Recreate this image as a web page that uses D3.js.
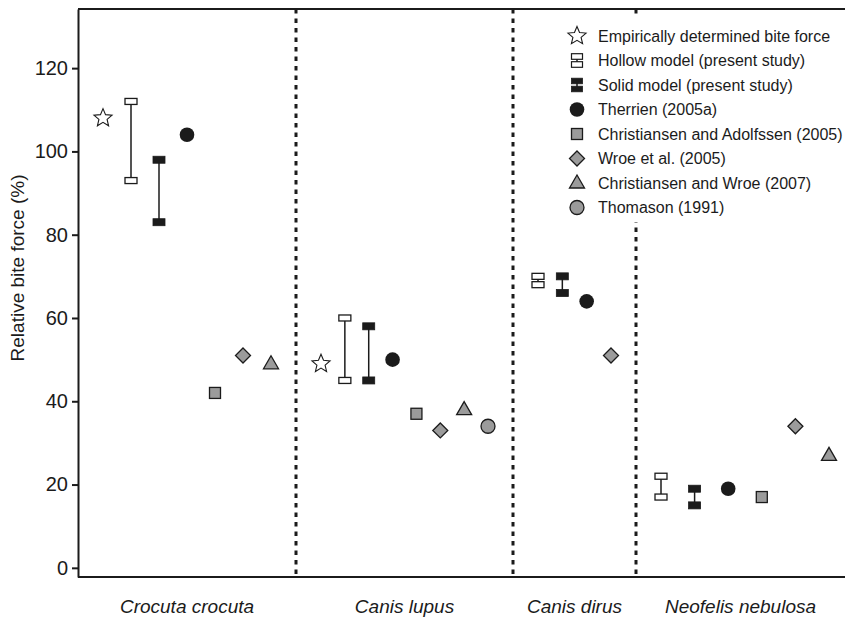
<!DOCTYPE html>
<html>
<head>
<meta charset="utf-8">
<script src="https://cdn.jsdelivr.net/npm/d3@7"></script>
<style>
  html, body { margin: 0; padding: 0; background: #fff; }
  svg { display: block; font-family: "Liberation Sans", Arial, sans-serif; }
</style>
</head>
<body>
<svg id="chart" width="845" height="624"></svg>
<script>
// Species on the x axis
const categories = ["Crocuta crocuta", "Canis lupus", "Canis dirus", "Neofelis nebulosa"];

// Relative bite force (%) per species; null = no estimate for that species
const empirical             = [108, 49, null, null];
const hollowLow             = [93, 45, 68, 17];
const hollowHigh            = [112, 60, 70, 22];
const solidLow              = [83, 45, 66, 15];
const solidHigh             = [98, 58, 70, 19];
const therrien              = [104, 50, 64, 19];
const christiansenAdolfssen = [42, 37, null, 17];
const wroe                  = [51, 33, 51, 34];
const christiansenWroe      = [49, 38, null, 27];
const thomason              = [null, 34, null, null];

const yTicks = [0, 20, 40, 60, 80, 100, 120];

const legendLabels = [
  "Empirically determined bite force",
  "Hollow model (present study)",
  "Solid model (present study)",
  "Therrien (2005a)",
  "Christiansen and Adolfssen (2005)",
  "Wroe et al. (2005)",
  "Christiansen and Wroe (2007)",
  "Thomason (1991)"
];

// Series in drawing order within each species group
const series = [
  { key: "empirical", kind: "star",   lo: empirical,   hi: empirical },
  { key: "hollow",    kind: "hollow", lo: hollowLow,   hi: hollowHigh },
  { key: "solid",     kind: "solid",  lo: solidLow,    hi: solidHigh },
  { key: "therrien",  kind: "dot",    lo: therrien,    hi: therrien },
  { key: "ca",        kind: "square", lo: christiansenAdolfssen, hi: christiansenAdolfssen },
  { key: "wroe",      kind: "diamond",lo: wroe,        hi: wroe },
  { key: "cw",        kind: "triangle", lo: christiansenWroe, hi: christiansenWroe },
  { key: "thomason",  kind: "grayDot", lo: thomason,   hi: thomason }
];

const W = 845, H = 624;
const svg = d3.select("#chart");
const ink = "#1b1b1b";
const gray = "#9b9b9b";

const y = d3.scaleLinear().domain([-2.2, 134.2]).range([577, 9]);
// group boundaries along x (group i spans gx(i)..gx(i+1))
const gx = d3.scaleLinear().domain([0, 1, 2, 3, 4]).range([78, 296, 513, 636, 854]);
const innerPad = 25;

// Build point list
const points = [];
categories.forEach((cat, ci) => {
  const present = series.filter(s => s.lo[ci] != null);
  const xp = d3.scalePoint()
    .domain(present.map(s => s.key))
    .range([gx(ci) + innerPad, gx(ci + 1) - innerPad]);
  present.forEach(s => {
    points.push({ cat, kind: s.kind, x: xp(s.key), lo: s.lo[ci], hi: s.hi[ci] });
  });
});

// Symbol helpers
function starPath(cx, cy, R, r) {
  const pts = [];
  for (let i = 0; i < 10; i++) {
    const a = -Math.PI / 2 + i * Math.PI / 5;
    const rad = i % 2 === 0 ? R : r;
    pts.push([cx + rad * Math.cos(a), cy + rad * Math.sin(a)]);
  }
  return "M" + pts.map(p => p.join(",")).join("L") + "Z";
}

function drawMarker(g, kind, x, yLo, yHi) {
  if (kind === "star") {
    g.append("path").attr("d", starPath(x, yLo, 9.5, 4.3))
      .attr("fill", "#fff").attr("stroke", ink).attr("stroke-width", 1.1);
  } else if (kind === "hollow" || kind === "solid") {
    const filled = kind === "solid";
    const cw = 12, ch = filled ? 7 : 6;
    g.append("line").attr("x1", x).attr("x2", x).attr("y1", yHi).attr("y2", yLo)
      .attr("stroke", ink).attr("stroke-width", 1.5);
    [yHi, yLo].forEach(yy => {
      g.append("rect").attr("x", x - cw / 2).attr("y", yy - ch / 2)
        .attr("width", cw).attr("height", ch)
        .attr("fill", filled ? ink : "#fff")
        .attr("stroke", ink).attr("stroke-width", filled ? 0.8 : 1.3);
    });
  } else if (kind === "dot") {
    g.append("circle").attr("cx", x).attr("cy", yLo).attr("r", 7.3).attr("fill", ink);
  } else if (kind === "grayDot") {
    g.append("circle").attr("cx", x).attr("cy", yLo).attr("r", 7)
      .attr("fill", gray).attr("stroke", ink).attr("stroke-width", 1.3);
  } else if (kind === "square") {
    const s = 11;
    g.append("rect").attr("x", x - s / 2).attr("y", yLo - s / 2).attr("width", s).attr("height", s)
      .attr("fill", gray).attr("stroke", ink).attr("stroke-width", 1.3);
  } else if (kind === "diamond") {
    const d = 7.5;
    g.append("path").attr("d", `M${x},${yLo - d}L${x + d},${yLo}L${x},${yLo + d}L${x - d},${yLo}Z`)
      .attr("fill", gray).attr("stroke", ink).attr("stroke-width", 1.3);
  } else if (kind === "triangle") {
    const hw = 7.5, top = yLo - 8, bot = yLo + 5;
    g.append("path").attr("d", `M${x},${top}L${x + hw},${bot}L${x - hw},${bot}Z`)
      .attr("fill", gray).attr("stroke", ink).attr("stroke-width", 1.3);
  }
}

// Dashed separators between species
const seps = svg.append("g");
[1, 2, 3].forEach(i => {
  seps.append("line")
    .attr("x1", gx(i)).attr("x2", gx(i))
    .attr("y1", y.range()[1]).attr("y2", y.range()[0])
    .attr("stroke", ink).attr("stroke-width", 3)
    .attr("stroke-dasharray", "4.5,5");
});

// Frame: top, left, bottom
const frame = svg.append("g").attr("stroke", ink).attr("stroke-width", 2).attr("fill", "none");
frame.append("line").attr("x1", 78).attr("x2", W).attr("y1", y.range()[1]).attr("y2", y.range()[1]);
frame.append("line").attr("x1", 78).attr("x2", W).attr("y1", y.range()[0]).attr("y2", y.range()[0]);

// Y axis
const yAxis = svg.append("g").attr("transform", "translate(78,0)")
  .call(d3.axisLeft(y).tickValues(yTicks).tickSize(6).tickPadding(4).tickSizeOuter(0));
yAxis.select(".domain").attr("stroke", ink).attr("stroke-width", 2);
yAxis.selectAll(".tick line").attr("stroke", ink).attr("stroke-width", 2);
yAxis.selectAll(".tick text").attr("font-size", 20).attr("fill", ink)
  .attr("font-family", "Liberation Sans, Arial, sans-serif");

svg.append("text")
  .attr("transform", `translate(24,${(y(0) + y(120)) / 2 - 50}) rotate(-90)`)
  .attr("text-anchor", "middle")
  .attr("font-size", 19).attr("fill", ink)
  .text("Relative bite force (%)");

// Category labels
categories.forEach((cat, ci) => {
  const cx = (gx(ci) + Math.min(gx(ci + 1), W)) / 2;
  svg.append("text").attr("x", cx).attr("y", 613)
    .attr("text-anchor", "middle").attr("font-size", 19).attr("font-style", "italic")
    .attr("fill", ink).text(cat);
});

// Data marks
const marks = svg.append("g");
points.forEach(p => drawMarker(marks, p.kind, p.x, y(p.lo), y(p.hi)));

// Legend (white backing hides the separator behind it)
const lg = svg.append("g");
lg.append("rect").attr("x", 560).attr("y", 18).attr("width", W - 562).attr("height", 204).attr("fill", "#fff");
const lx = 577, ly0 = 36, lstep = 24.5;
legendLabels.forEach((lab, i) => {
  const yy = ly0 + i * lstep;
  const kind = series[i].kind;
  if (kind === "hollow" || kind === "solid") {
    const filled = kind === "solid";
    const g = lg.append("g");
    g.append("line").attr("x1", lx).attr("x2", lx).attr("y1", yy - 4).attr("y2", yy + 4)
      .attr("stroke", ink).attr("stroke-width", 1.5);
    [yy - 4, yy + 4].forEach(cy => {
      g.append("rect").attr("x", lx - 5.5).attr("y", cy - 2.8).attr("width", 11).attr("height", 5.6)
        .attr("fill", filled ? ink : "#fff").attr("stroke", ink).attr("stroke-width", filled ? 0.8 : 1.2);
    });
  } else {
    drawMarker(lg, kind, lx, yy, yy);
  }
  lg.append("text").attr("x", 598).attr("y", yy + 5.5)
    .attr("font-size", 16).attr("fill", ink).text(lab);
});
</script>
</body>
</html>
